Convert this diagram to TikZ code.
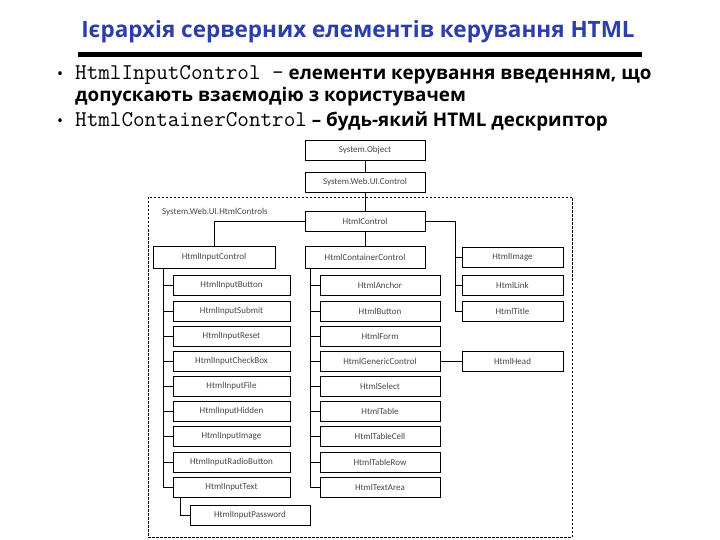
\documentclass[tikz,border=0pt]{standalone}
\usepackage{fontspec}
\setmainfont{Open Sans}
\newfontfamily\diagfont{Carlito}
\definecolor{titleblue}{RGB}{44,62,170}
\definecolor{boxtext}{RGB}{70,70,70}
\tikzset{
  cls/.style={draw, line width=0.8pt, minimum height=20pt, inner sep=0pt,
    font=\diagfont\fontsize{9}{10}\selectfont, text=boxtext},
  lcls/.style={cls, minimum width=117pt},
  mcls/.style={cls, minimum width=120pt},
  rcls/.style={cls, minimum width=101pt},
  wire/.style={line width=0.8pt},
  bodytext/.style={anchor=base west, inner sep=0pt, font=\bfseries\fontsize{18.8}{20}\selectfont},
}
\newcommand\monopart[1]{{\mdseries\fontsize{22.5}{22}\selectfont\ttfamily #1}}
\begin{document}
\begin{tikzpicture}[x=1pt,y=-1pt]
\useasboundingbox (0,0) rectangle (720,540);
% title
\node[inner sep=0pt, text=titleblue, font=\bfseries\fontsize{22.5}{26}\selectfont] (title) at (358,32) {Ієрархія серверних елементів керування HTML};
\draw[line width=4.5pt] (78,54.5) -- (642,54.5);
% bullets
\node[bodytext, font=\fontsize{16}{18}\selectfont] (b1) at (57,80) {•};
\node[bodytext] (t1) at (75,80) {\monopart{HtmlInputControl -} елементи керування введенням, що};
\node[bodytext] (t2) at (75,102) {допускають взаємодію з користувачем};
\node[bodytext, font=\fontsize{16}{18}\selectfont] (b3) at (57,127) {•};
\node[bodytext] (t3) at (75,127) {\monopart{HtmlContainerControl} – будь-який HTML дескриптор};
% namespace frame
\draw[dash pattern=on 2.5pt off 1.5pt, line width=0.7pt] (148,197) rectangle (572,537);
\node[anchor=west, inner sep=0pt, font=\diagfont\fontsize{9}{10}\selectfont, text=boxtext] (ns) at (162,212) {System.Web.UI.HtmlControls};
% top boxes
\node[cls, minimum width=120pt] (sysobj) at (365,150) {System.Object};
\node[cls, minimum width=120pt] (webctl) at (365,182) {System.Web.UI.Control};
\node[cls, minimum width=120pt] (hctl) at (365,221) {HtmlControl};
\node[cls, minimum width=122pt, minimum height=22pt] (inctl) at (214,257) {HtmlInputControl};
\node[cls, minimum width=120pt, minimum height=22pt] (contctl) at (365,257) {HtmlContainerControl};
% left column
\foreach \n/\y/\t in {1/285/HtmlInputButton, 2/311/HtmlInputSubmit, 3/336/HtmlInputReset,
  4/361/HtmlInputCheckBox, 5/386/HtmlInputFile, 6/411/HtmlInputHidden, 7/436/HtmlInputImage,
  8/462/HtmlInputRadioButton, 9/487/HtmlInputText}
  \node[lcls] (l\n) at (231.5,\y) {\t};
\node[lcls, minimum width=120pt] (pw) at (250,515) {HtmlInputPassword};
% middle column
\foreach \n/\y/\t in {1/285/HtmlAnchor, 2/311/HtmlButton, 3/336/HtmlForm,
  4/361/HtmlGenericControl, 5/386/HtmlSelect, 6/411/HtmlTable, 7/436/HtmlTableCell,
  8/462/HtmlTableRow, 9/487/HtmlTextArea}
  \node[mcls] (m\n) at (380,\y) {\t};
% right column
\node[rcls] (r1) at (512.5,257) {HtmlImage};
\node[rcls] (r2) at (512.5,285) {HtmlLink};
\node[rcls] (r3) at (512.5,311) {HtmlTitle};
\node[rcls] (r4) at (512.5,361) {HtmlHead};
% connectors
\coordinate (lx) at (163,0);
\coordinate (mx) at (310,0);
\coordinate (rx) at (455,0);
\coordinate (px) at (180,0);
\draw[wire] (sysobj) -- (webctl);
\draw[wire] (webctl) -- (hctl);
\draw[wire] (hctl) -- (contctl);
\draw[wire] (hctl.west) -| (inctl.north);
\draw[wire] (hctl.east) -- (hctl.east -| rx) -- (r3.west -| rx);
\foreach \n in {1,2,3} \draw[wire] (r\n.west) -- (r\n.west -| rx);
\draw[wire] (m4.east) -- (r4.west);
\draw[wire] (inctl.south -| lx) -- (l9.west -| lx);
\foreach \n in {1,...,9} \draw[wire] (l\n.west) -- (l\n.west -| lx);
\draw[wire] (contctl.south -| mx) -- (m9.west -| mx);
\foreach \n in {1,...,9} \draw[wire] (m\n.west) -- (m\n.west -| mx);
\draw[wire] (l9.south -| px) |- (pw.west);
\end{tikzpicture}
\end{document}
